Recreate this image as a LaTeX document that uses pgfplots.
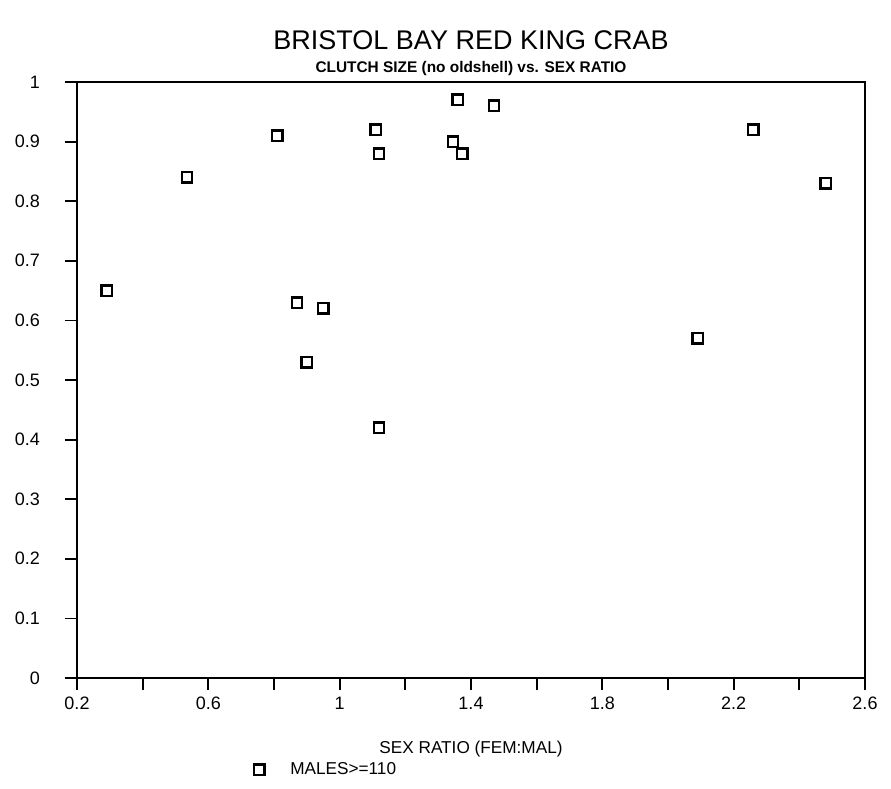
\documentclass[border=0pt]{standalone}
\usepackage{fontspec}
\setmainfont{Liberation Sans}
\usepackage{pgfplots}
\pgfplotsset{compat=1.18}
\begin{document}
\begin{tikzpicture}
\path[use as bounding box] (-38.5pt,-55.5pt) rectangle (407pt,339pt);
\begin{axis}[
  at={(0,0)}, anchor=south west,
  scale only axis, width=394pt, height=298pt,
  xmin=0.2, xmax=2.6, ymin=0, ymax=1,
  xtick={0.2,0.6,1,1.4,1.8,2.2,2.6},
  minor xtick={0.4,0.8,1.2,1.6,2.0,2.4},
  ytick={0,0.1,0.2,0.3,0.4,0.5,0.6,0.7,0.8,0.9,1},
  tick align=outside, tick pos=left,
  major tick length=6pt, minor tick length=6pt,
  tick style={black, line width=0.9pt},
  axis line style={line width=1.1pt},
  /pgf/number format/assume math mode=true,
  ticklabel style={font=\fontsize{9}{10}\selectfont},
  yticklabel style={xshift=-9pt},
  xlabel={SEX RATIO (FEM:MAL)},
  xlabel style={at={(axis description cs:0.5,0)}, anchor=center, yshift=-35.5pt, font=\fontsize{8.6}{10}\selectfont},
  clip=false,
  legend style={at={(axis description cs:0.224,-0.154)}, anchor=west, draw=none, fill=none,
    font=\fontsize{8.6}{10}\selectfont, inner sep=0pt},
]
\addplot[only marks, mark=square, mark size=2.6pt, mark options={line width=1.2pt, black}] coordinates {
(0.29,0.65) (0.535,0.84) (0.81,0.91) (0.87,0.63) (0.90,0.53) (0.95,0.62)
(1.11,0.92) (1.12,0.88) (1.12,0.42) (1.345,0.90) (1.36,0.97) (1.373,0.88)
(1.47,0.96) (2.09,0.57) (2.26,0.92) (2.48,0.83)
};
\addlegendentry{\hspace{11pt}MALES>=110}
\node[font=\fontsize{13.5}{15}\selectfont, yshift=21pt] at (axis description cs:0.5,1) {BRISTOL BAY RED KING CRAB};
\node[font=\bfseries\fontsize{7.7}{9}\selectfont, yshift=6.5pt] at (axis description cs:0.5,1) {CLUTCH SIZE (no oldshell) vs. SEX RATIO};
\end{axis}
\end{tikzpicture}
\end{document}
